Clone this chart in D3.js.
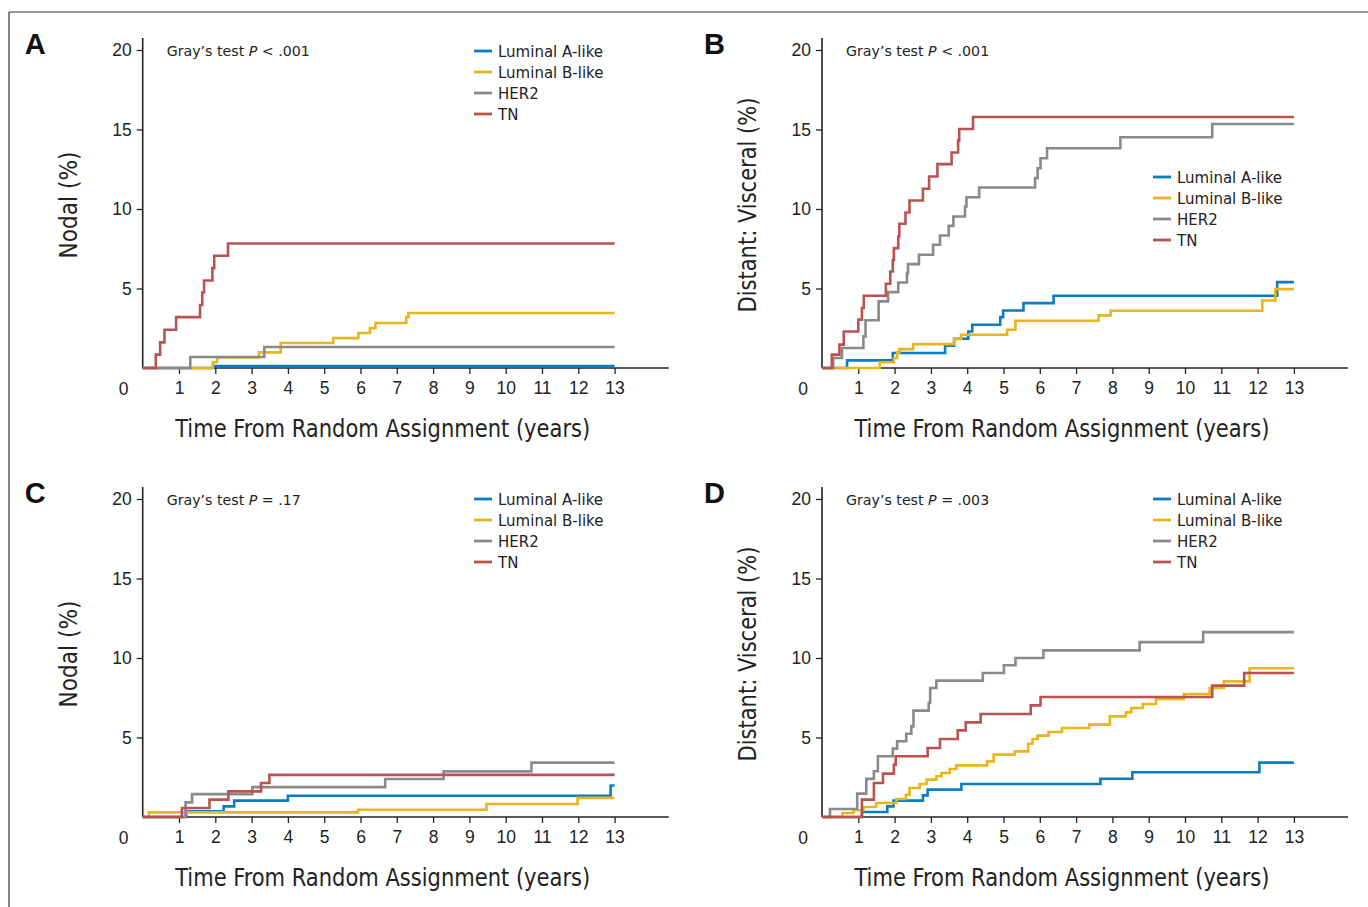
<!DOCTYPE html>
<html><head><meta charset="utf-8">
<script src="https://cdn.jsdelivr.net/npm/d3@7"></script>
<style>
body{margin:0;background:#fff;}
svg{display:block;}
</style></head>
<body>
<svg id="chart" width="1368" height="907"></svg>
<script>
// ---------- data ----------
const seriesNames = ["Luminal A-like","Luminal B-like","HER2","TN"];
const xTicks = [1,2,3,4,5,6,7,8,9,10,11,12,13];
const yTicks = [5,10,15,20];
const panelLetters = ["A","B","C","D"];
const panelYTitles = ["Nodal (%)","Distant: Visceral (%)","Nodal (%)","Distant: Visceral (%)"];
const panelPValues = ["< .001","< .001","= .17","= .003"];

// Panel A (nodal) [time, cumulative %]
const A_lumA = [[0,0],[1.95,0.12],[13,0.12]];
const A_lumB = [[0,0],[1.93,0.36],[2.05,0.66],[3.2,0.98],[3.8,1.57],[5.25,1.88],[5.94,2.2],[6.26,2.51],[6.41,2.83],[7.26,3.2],[7.32,3.46],[13,3.46]];
const A_her2 = [[0,0],[1.31,0.69],[3.35,1.32],[13,1.32]];
const A_tn   = [[0,0],[0.36,0.84],[0.48,1.61],[0.6,2.41],[0.92,3.2],[1.58,3.96],[1.64,4.75],[1.69,5.5],[1.92,6.28],[1.97,7.06],[2.35,7.83],[13,7.83]];

// Panel B (distant visceral)
const B_lumA = [[0,0],[0.69,0.48],[1.95,0.94],[3.39,1.4],[3.64,1.84],[4.03,2.3],[4.14,2.72],[4.91,3.2],[4.99,3.62],[5.55,4.08],[6.38,4.54],[12.54,5.4],[13,5.4]];
const B_lumB = [[0,0],[1.59,0.36],[1.98,0.63],[2.07,0.98],[2.13,1.19],[2.51,1.5],[3.64,1.82],[3.83,2.09],[5.1,2.41],[5.33,2.97],[7.62,3.31],[7.95,3.6],[12.13,4.25],[12.49,4.96],[13,4.96]];
const B_her2 = [[0,0],[0.31,0.63],[0.55,1.26],[1.14,1.99],[1.2,3.0],[1.56,4.19],[1.82,4.77],[2.1,5.38],[2.34,5.97],[2.37,6.53],[2.67,7.12],[3.06,7.75],[3.25,8.33],[3.49,8.94],[3.62,9.53],[3.94,10.16],[3.98,10.74],[4.33,11.35],[5.87,11.94],[5.94,12.56],[6.02,13.19],[6.2,13.82],[8.22,14.51],[10.75,15.35],[13,15.35]];
const B_tn   = [[0,0],[0.27,0.84],[0.48,1.47],[0.6,2.3],[1.0,3.04],[1.1,3.77],[1.15,4.54],[1.76,5.3],[1.88,6.07],[1.95,6.8],[1.98,7.54],[2.1,8.27],[2.13,9.07],[2.3,9.78],[2.41,10.53],[2.78,11.27],[2.95,12.04],[3.18,12.82],[3.57,13.55],[3.75,14.3],[3.78,15.03],[4.16,15.79],[13,15.79]];

// Panel C (nodal)
const C_lumA = [[0,0],[1.2,0.36],[2.23,0.67],[2.52,1.03],[4.0,1.34],[12.89,1.98],[13,1.98]];
const C_lumB = [[0,0],[0.17,0.29],[5.93,0.46],[9.47,0.82],[11.98,1.2],[13,1.2]];
const C_her2 = [[0,0],[1.18,0.92],[1.36,1.44],[3.02,1.88],[6.68,2.39],[8.29,2.87],[10.71,3.42],[13,3.42]];
const C_tn   = [[0,0],[1.08,0.57],[1.84,1.09],[2.36,1.61],[3.26,2.14],[3.49,2.65],[13,2.65]];

// Panel D (distant visceral)
const D_lumA = [[0,0],[1.1,0.31],[1.8,0.67],[1.97,1.03],[2.78,1.36],[2.91,1.72],[3.84,2.08],[7.67,2.41],[8.55,2.81],[12.05,3.42],[13,3.42]];
const D_lumB = [[0,0],[0.56,0.25],[0.87,0.42],[1.14,0.63],[1.49,0.88],[2.05,1.13],[2.31,1.4],[2.41,1.82],[2.69,2.08],[2.88,2.35],[3.15,2.56],[3.29,2.77],[3.52,3.02],[3.7,3.25],[4.55,3.5],[4.73,3.92],[5.31,4.13],[5.68,4.61],[5.8,4.91],[5.94,5.12],[6.24,5.35],[6.61,5.6],[7.36,5.81],[7.93,6.33],[8.37,6.58],[8.52,6.86],[8.84,7.11],[9.2,7.42],[9.97,7.74],[10.68,8.11],[11.07,8.53],[11.78,9.36],[13,9.36]];
const D_her2 = [[0,0],[0.22,0.5],[0.97,1.47],[1.22,2.4],[1.43,2.88],[1.54,3.82],[1.95,4.3],[2.07,4.76],[2.32,5.24],[2.46,5.7],[2.52,6.69],[2.94,7.17],[2.98,8.11],[3.15,8.58],[4.43,9.06],[5.01,9.54],[5.33,10.0],[6.1,10.48],[8.75,11.0],[10.5,11.63],[13,11.63]];
const D_tn   = [[0,0],[1.1,1.09],[1.43,2.14],[1.68,2.73],[1.98,3.29],[2.03,3.82],[2.91,4.34],[3.25,4.91],[3.74,5.45],[3.96,5.95],[4.37,6.48],[5.75,7.02],[6.02,7.55],[10.75,8.26],[11.63,9.06],[13,9.06]];

const panelSeries = [
  [A_lumA, A_lumB, A_her2, A_tn],
  [B_lumA, B_lumB, B_her2, B_tn],
  [C_lumA, C_lumB, C_her2, C_tn],
  [D_lumA, D_lumB, D_her2, D_tn]
];

// ---------- style / layout ----------
const colors = ["#0a7cc1","#e9b51c","#8a8a8a","#b9534f"];
const axisColor = "#222";
const condensed = "'Liberation Sans Narrow','DejaVu Sans Condensed','Liberation Sans',sans-serif";
const sans = "'Liberation Sans',Arial,sans-serif";
const legendFont = "'DejaVu Sans',sans-serif";

const layout = [
  {ox:142.7, oy:368, legX:474, legY:51},
  {ox:822,   oy:368, legX:1153, legY:177},
  {ox:142.7, oy:817, legX:474, legY:499},
  {ox:822,   oy:817, legX:1153, legY:499}
];
const pxPerYear = 36.3, plotH = 318, axisExtend = 526;

const svg = d3.select("#chart");

// frame
svg.append("line").attr("x1",9).attr("y1",12).attr("x2",1368).attr("y2",12).attr("stroke","#333").attr("stroke-width",1.2);
svg.append("line").attr("x1",9).attr("y1",12).attr("x2",9).attr("y2",907).attr("stroke","#333").attr("stroke-width",1.2);

layout.forEach((L,i)=>{
  const x = d3.scaleLinear().domain([0,13]).range([L.ox, L.ox+13*pxPerYear]);
  const y = d3.scaleLinear().domain([0,20]).range([L.oy, L.oy-plotH]);
  const g = svg.append("g");

  // panel letter
  g.append("text").attr("x", L.ox-118).attr("y", L.oy-314)
    .attr("font-family", sans).attr("font-weight","bold").attr("font-size",29)
    .attr("fill","#111").text(panelLetters[i]);

  // y axis
  const yAxis = d3.axisLeft(y).tickValues(yTicks).tickSize(6).tickPadding(5).tickFormat(d3.format("d"));
  const ya = g.append("g").attr("transform",`translate(${L.ox},0)`).call(yAxis);
  ya.select(".domain").attr("d", `M0,${L.oy-330}V${L.oy}`);
  // x axis
  const xAxis = d3.axisBottom(x).tickValues(xTicks).tickSize(6).tickPadding(8).tickFormat(d3.format("d"));
  const xa = g.append("g").attr("transform",`translate(0,${L.oy})`).call(xAxis);
  xa.select(".domain").attr("d", `M${L.ox},0H${L.ox+axisExtend}`);
  [ya,xa].forEach(a=>{
    a.selectAll(".domain").attr("stroke",axisColor).attr("stroke-width",1.6);
    a.selectAll(".tick line").attr("stroke",axisColor).attr("stroke-width",1.3);
    a.selectAll("text").attr("font-family",sans).attr("font-size",17.5).attr("fill","#222");
  });
  // zero label
  g.append("text").attr("x", L.ox-19).attr("y", L.oy+27).attr("text-anchor","middle")
    .attr("font-family",sans).attr("font-size",17.5).attr("fill","#222").text("0");

  // axis titles
  g.append("text").attr("x", L.ox+240).attr("y", L.oy+69).attr("text-anchor","middle")
    .attr("font-family",condensed).attr("font-size",25).attr("fill","#222")
    .attr("textLength",415).attr("lengthAdjust","spacingAndGlyphs")
    .text("Time From Random Assignment (years)");
  const yt = panelYTitles[i];
  g.append("text").attr("transform",`translate(${L.ox-66},${L.oy-163}) rotate(-90)`)
    .attr("text-anchor","middle")
    .attr("font-family",condensed).attr("font-size",25).attr("fill","#222")
    .attr("textLength", yt.length>12 ? 215 : 107).attr("lengthAdjust","spacingAndGlyphs")
    .text(yt);

  // Gray's test
  const gt = g.append("text").attr("x", L.ox+24).attr("y", L.oy-312)
    .attr("font-family",legendFont).attr("font-size",14.2).attr("fill","#222");
  gt.append("tspan").text("Gray\u2019s test ");
  gt.append("tspan").attr("font-style","italic").text("P");
  gt.append("tspan").text(" " + panelPValues[i]);

  // curves
  const line = d3.line().curve(d3.curveStepAfter).x(d=>x(d[0])).y(d=>y(d[1]));
  panelSeries[i].forEach((s,k)=>{
    g.append("path").datum(s).attr("d",line).attr("fill","none")
      .attr("stroke",colors[k]).attr("stroke-width",2.6);
  });

  // legend
  seriesNames.forEach((n,k)=>{
    const ly = L.legY + k*21;
    g.append("line").attr("x1",L.legX).attr("x2",L.legX+18).attr("y1",ly).attr("y2",ly)
      .attr("stroke",colors[k]).attr("stroke-width",2.8);
    g.append("text").attr("x",L.legX+24).attr("y",ly+5.5)
      .attr("font-family",legendFont).attr("font-size",15).attr("fill","#222").text(n);
  });
});
</script>
</body></html>
